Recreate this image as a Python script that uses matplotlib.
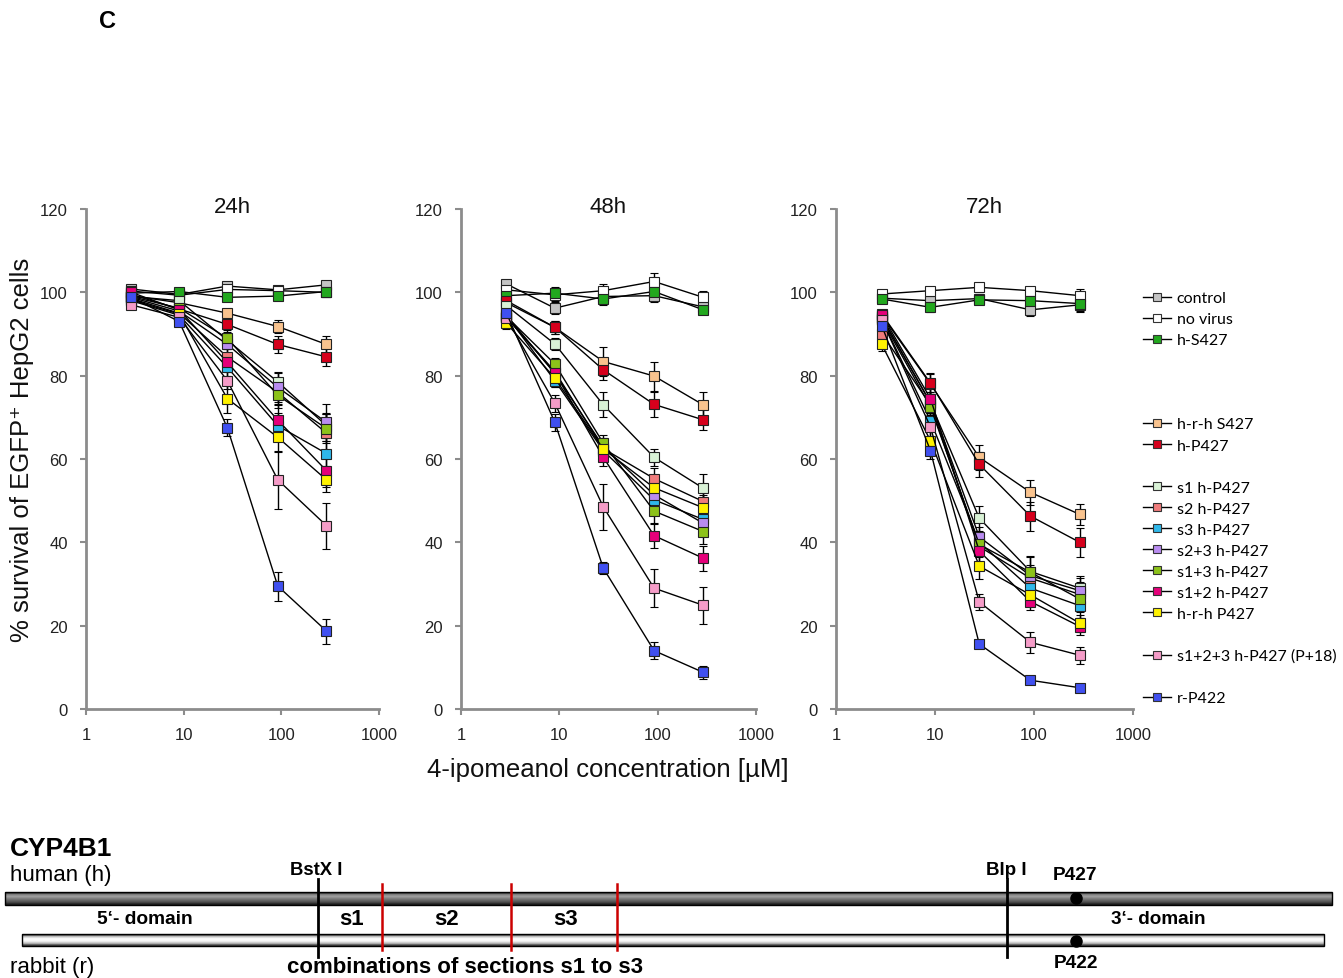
import numpy as np
import matplotlib.pyplot as plt
from matplotlib.lines import Line2D
from matplotlib.patches import Rectangle
from matplotlib.ticker import NullLocator

# concentrations of 4-ipomeanol [uM]
conc = [2.9, 9, 28, 92, 290]

labels = ['control', 'no virus', 'h-S427', 'h-r-h S427', 'h-P427',
          's1 h-P427', 's2 h-P427', 's3 h-P427', 's2+3 h-P427', 's1+3 h-P427',
          's1+2 h-P427', 'h-r-h P427', 's1+2+3 h-P427 (P+18)', 'r-P422']
colors = ['#c4c4c4', '#ffffff', '#22a81e', '#f9c38e', '#d6001c',
          '#d9f2d6', '#f07c7c', '#2fb8ea', '#b98cf0', '#8cc21a',
          '#e5007a', '#fff200', '#f59cc8', '#4050f0']
# empty rows in the legend between the groups
legend_slot = [0, 1, 2, 6, 7, 9, 10, 11, 12, 13, 14, 15, 17, 19]

surv_24h = [[100.8, 99.5, 101.5, 100.6, 101.8],
            [100.3, 99.3, 100.7, 100.4, 100.0],
            [99.8, 100.2, 98.8, 99.1, 100.2],
            [99.2, 97.5, 95.0, 91.8, 87.5],
            [99.5, 96.0, 92.3, 87.5, 84.5],
            [99.0, 98.0, 88.5, 78.5, 68.0],
            [98.5, 95.0, 84.5, 76.0, 66.2],
            [98.0, 94.5, 82.0, 68.0, 61.3],
            [98.8, 95.5, 87.5, 77.2, 68.8],
            [99.0, 96.2, 89.0, 75.3, 67.3],
            [100.0, 95.8, 83.2, 69.3, 57.2],
            [98.2, 94.8, 74.5, 65.2, 55.0],
            [97.0, 94.0, 78.8, 55.0, 44.0],
            [98.8, 93.0, 67.5, 29.5, 18.7]]
err_24h = [[1.0, 0.8, 1.0, 0.8, 1.0],
           [1.0, 0.8, 1.0, 0.8, 1.0],
           [0.8, 0.8, 0.8, 0.8, 1.0],
           [1.0, 1.0, 1.0, 1.5, 2.0],
           [1.0, 1.0, 1.0, 2.0, 2.2],
           [1.0, 1.0, 2.0, 2.5, 3.0],
           [1.0, 1.0, 2.0, 3.0, 4.5],
           [1.0, 1.0, 2.0, 3.0, 3.0],
           [1.0, 1.0, 2.0, 3.5, 4.5],
           [1.0, 1.0, 2.0, 3.0, 3.5],
           [1.0, 1.0, 2.0, 4.0, 4.0],
           [1.0, 1.0, 3.5, 3.5, 3.0],
           [1.0, 1.0, 2.0, 7.0, 5.5],
           [1.0, 1.0, 2.0, 3.5, 3.0]]

surv_48h = [[102.0, 96.2, 99.0, 99.2, 96.5],
            [100.6, 99.4, 100.4, 102.6, 98.8],
            [99.2, 99.8, 98.4, 100.2, 95.8],
            [97.5, 91.6, 83.4, 79.9, 73.0],
            [98.0, 91.6, 81.4, 73.1, 69.4],
            [96.8, 87.6, 73.0, 60.4, 53.0],
            [94.0, 81.0, 62.5, 55.3, 49.8],
            [94.5, 78.8, 62.0, 50.2, 45.5],
            [94.5, 80.5, 63.0, 51.4, 44.6],
            [94.2, 82.8, 63.8, 47.5, 42.6],
            [94.0, 80.7, 60.4, 41.6, 36.2],
            [92.6, 79.4, 62.4, 53.1, 48.3],
            [93.8, 73.4, 48.5, 29.0, 24.9],
            [95.0, 68.8, 33.8, 14.0, 8.8]]
err_48h = [[1.0, 1.5, 1.5, 1.5, 1.5],
           [1.0, 1.5, 1.5, 2.0, 1.5],
           [1.0, 1.5, 1.5, 1.5, 1.0],
           [1.0, 1.5, 3.5, 3.5, 3.0],
           [1.0, 1.5, 2.5, 3.0, 2.5],
           [1.0, 1.5, 3.0, 2.0, 3.5],
           [1.0, 1.5, 2.0, 2.5, 3.0],
           [1.0, 1.5, 2.0, 2.5, 3.0],
           [1.0, 1.5, 2.0, 2.5, 3.0],
           [1.0, 1.5, 2.0, 3.0, 3.0],
           [1.0, 1.5, 2.0, 3.0, 3.0],
           [1.5, 2.0, 2.0, 2.5, 3.0],
           [1.0, 2.0, 5.5, 4.5, 4.5],
           [1.0, 2.0, 1.5, 2.0, 1.5]]

surv_72h = [[98.6, 98.0, 98.5, 95.8, 97.0],
            [99.6, 100.4, 101.2, 100.4, 99.2],
            [98.4, 96.4, 98.2, 98.0, 97.3],
            [94.5, 78.0, 60.4, 52.0, 46.7],
            [94.8, 78.2, 58.7, 46.3, 40.0],
            [94.0, 73.5, 45.8, 33.0, 29.0],
            [90.1, 73.0, 39.0, 31.4, 27.5],
            [93.5, 69.2, 40.0, 29.0, 24.8],
            [94.0, 73.5, 41.3, 32.0, 28.4],
            [93.5, 72.5, 39.5, 32.8, 26.4],
            [94.6, 74.5, 37.9, 25.8, 19.8],
            [87.5, 64.4, 34.3, 27.4, 20.6],
            [93.4, 67.7, 25.7, 16.0, 12.9],
            [92.0, 62.0, 15.6, 6.9, 5.1]]
err_72h = [[1.0, 1.0, 1.0, 1.5, 1.5],
           [1.0, 1.0, 1.0, 1.0, 1.5],
           [1.0, 1.0, 1.0, 1.0, 2.0],
           [1.0, 2.5, 3.0, 3.0, 2.5],
           [1.0, 2.5, 3.0, 3.5, 3.5],
           [1.0, 2.5, 3.0, 3.5, 3.0],
           [1.0, 2.5, 2.5, 2.5, 3.0],
           [1.0, 2.5, 2.5, 2.5, 3.0],
           [1.0, 2.5, 2.5, 2.5, 3.0],
           [1.0, 2.5, 2.5, 4.0, 3.0],
           [1.0, 2.5, 2.5, 2.0, 2.0],
           [1.5, 2.5, 3.0, 2.5, 2.0],
           [1.0, 2.5, 2.0, 2.5, 2.0],
           [1.0, 2.0, 1.0, 1.0, 0.8]]

panels = [('24h', surv_24h, err_24h),
          ('48h', surv_48h, err_48h),
          ('72h', surv_72h, err_72h)]

W, H = 1343, 979
sans = ['Liberation Sans', 'DejaVu Sans']
narrow = ['Liberation Sans Narrow', 'Liberation Sans', 'DejaVu Sans']
plt.rcParams['font.family'] = sans

fig = plt.figure(figsize=(W / 100, H / 100), dpi=100)

# full-figure axes in pixel units for labels and the construct sketch
bg = fig.add_axes([0, 0, 1, 1])
bg.set_xlim(0, W)
bg.set_ylim(H, 0)
bg.axis('off')

axis_grey = '#8c8c8c'
panel_left = [86, 461, 836]
panel_width = [293, 295, 297]
for (title, surv, err), left, width in zip(panels, panel_left, panel_width):
    ax = fig.add_axes([left / W, (H - 710) / H, width / W, 500 / H])
    for i in range(len(labels)):
        ax.errorbar(conc, surv[i], yerr=err[i], color='black', lw=1,
                    marker='s', ms=6.5, mfc=colors[i], mec='#222222', mew=0.8,
                    capsize=3, elinewidth=1, capthick=1)
    ax.set_xscale('log')
    ax.set_xlim(1, 1000)
    ax.set_ylim(0, 120)
    ax.set_xticks([1, 10, 100, 1000])
    ax.set_xticklabels(['1', '10', '100', '1000'])
    ax.xaxis.set_minor_locator(NullLocator())
    ax.set_yticks(range(0, 121, 20))
    for s in ['top', 'right']:
        ax.spines[s].set_visible(False)
    for s in ['left', 'bottom']:
        ax.spines[s].set_color(axis_grey)
        ax.spines[s].set_linewidth(2)
    ax.tick_params(axis='both', colors=axis_grey, labelcolor='#222222',
                   labelsize=12, length=4, width=1.5)
    ax.tick_params(axis='y', pad=9)
    ax.tick_params(axis='x', pad=9)
    ax.patch.set_alpha(0)
    ax.text(0.5, 1.005, title, transform=ax.transAxes, ha='center',
            va='center', fontsize=16, color='#111111')

fig.text(22 / W, 1 - 450 / H, '% survival of EGFP\u207a HepG2 cells',
         rotation=90, ha='center', va='center', fontsize=18.5,
         family=sans, color='#111111')
fig.text(608 / W, 1 - 770 / H, '4-ipomeanol concentration [\u00b5M]',
         ha='center', va='center', fontsize=18.5, color='#111111')
fig.text(107 / W, 1 - 22 / H, 'C', ha='center', va='center',
         fontsize=17, fontweight='bold')

# legend with blank rows between groups
handles = [Line2D([], [], color='none')] * 20
names = [''] * 20
for slot, lab, col in zip(legend_slot, labels, colors):
    handles[slot] = Line2D([], [], color='black', lw=1, marker='s', ms=6,
                           mfc=col, mec='#333333', mew=0.8)
    names[slot] = lab
fig.legend(handles, names, loc='upper left',
           bbox_to_anchor=(1143 / W, 1 - 292 / H), frameon=False,
           prop={'family': 'Lato', 'size': 11.5}, handlelength=1.75,
           handletextpad=0.35, labelspacing=0.43, borderpad=0,
           borderaxespad=0)

# construct sketch: human and rabbit CYP4B1
human_shade = np.array([0.2, 0.55, 0.62, 0.5, 0.4, 0.3, 0.12])[:, None]
rabbit_shade = np.array([0.25, 0.75, 0.97, 1.0, 0.9, 0.7, 0.25])[:, None]
bars = [(5, 1332, 893, 906, human_shade), (22, 1324, 935, 947, rabbit_shade)]
for x0, x1, y0, y1, shade in bars:
    bg.imshow(shade, cmap='gray', vmin=0, vmax=1, aspect='auto',
              interpolation='bilinear', extent=(x0, x1, y1, y0), zorder=1)
    bg.add_patch(Rectangle((x0, y0), x1 - x0, y1 - y0, fill=False,
                           ec='black', lw=1, zorder=2))
bg.set_xlim(0, W)
bg.set_ylim(H, 0)

for x in [318, 1007]:
    bg.plot([x, x], [880, 958], color='black', lw=2, zorder=3)
for x in [382, 511, 617]:
    bg.plot([x, x], [885, 951], color='#cc0000', lw=1.8, zorder=3)
bg.plot([1076, 1076], [899, 942], 'o', color='black', ms=8, ls='none',
        zorder=4)

bg.text(10, 849, 'CYP4B1', fontsize=19, fontweight='bold', va='center',
        family=narrow)
bg.text(10, 876, 'human (h)', fontsize=16, va='center')
bg.text(10, 968, 'rabbit (r)', fontsize=16, va='center')
bold_txt = [(316, 871, 'BstX I', 13.3), (1006, 871, 'Blp I', 13.5),
            (1075, 876, 'P427', 13.8), (1076, 964, 'P422', 13.8),
            (145, 920, '5\u2018- domain', 13.8), (1158, 920, '3\u2018- domain', 13.6),
            (352, 920, 's1', 16), (447, 920, 's2', 16), (566, 920, 's3', 16),
            (465, 968, 'combinations of sections s1 to s3', 16)]
for x, y, s, fs in bold_txt:
    bg.text(x, y, s, fontsize=fs, fontweight='bold', ha='center', va='center',
            family=narrow)

fig.savefig('out.png', dpi=100)
